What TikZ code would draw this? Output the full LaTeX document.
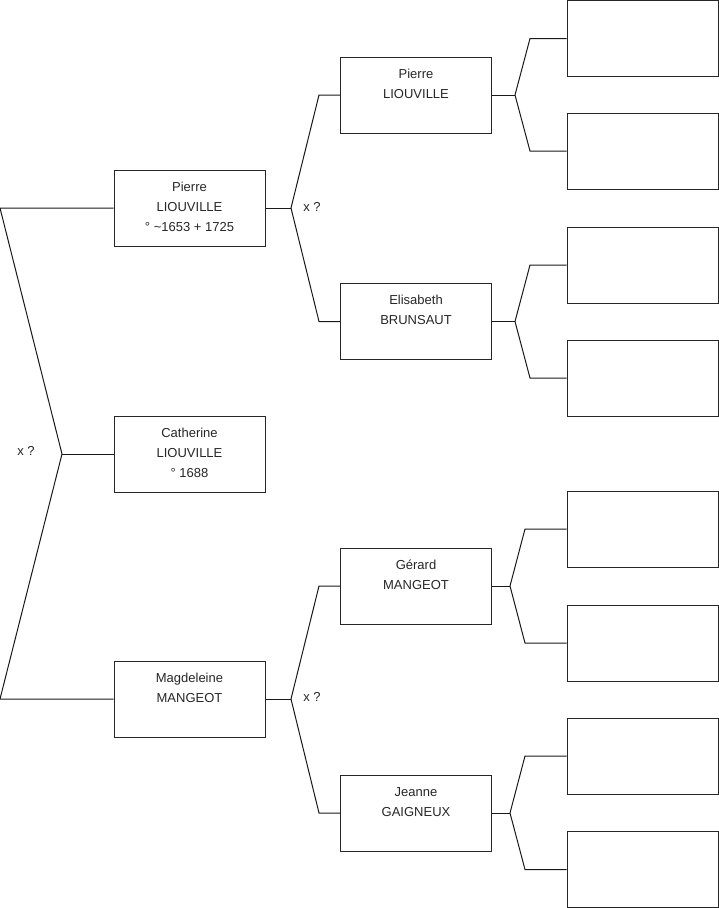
\documentclass[tikz,border=0pt]{standalone}
\usepackage{fontspec}
\setmainfont{Liberation Sans}

\newcommand\who[1]{\begin{tabular}[t]{@{}c@{}}#1\end{tabular}}

\tikzset{
  box/.style={draw=black!85, line width=1pt, inner sep=0pt, minimum width=151pt,
    text height=21pt, text depth=55pt, text=black!85},
  link/.style={draw=black!90, line width=1pt},
  union/.style={inner sep=0pt, text=black!85}
}

\begin{document}
\begin{tikzpicture}[x=1pt, y=-1pt, font=\fontsize{13}{20}\selectfont]
    \useasboundingbox (0,0) rectangle (719,908);

    % child
    \node[box] (cath) at (189.5,454) {\who{Catherine\\LIOUVILLE\\° 1688}};

    % parents
    \node[box] (pier) at (189.5,208) {\who{Pierre\\LIOUVILLE\\° \textasciitilde1653 + 1725}};
    \node[box] (magd) at (189.5,699) {\who{Magdeleine\\MANGEOT}};

    % grand-parents
    \node[box] (pier2) at (416,95)  {\who{Pierre\\LIOUVILLE}};
    \node[box] (elis)  at (416,321.5) {\who{Elisabeth\\BRUNSAUT}};
    \node[box] (gera)  at (416,586) {\who{Gérard\\MANGEOT}};
    \node[box] (jean)  at (416,813) {\who{Jeanne\\GAIGNEUX}};

    % great-grand-parents (unknown)
    \node[box] (u1) at (642.5,38.5)  {};
    \node[box] (u2) at (642.5,151) {};
    \node[box] (u3) at (642.5,265) {};
    \node[box] (u4) at (642.5,378) {};
    \node[box] (u5) at (642.5,529) {};
    \node[box] (u6) at (642.5,643) {};
    \node[box] (u7) at (642.5,756) {};
    \node[box] (u8) at (642.5,869.5) {};

    % forks
    \coordinate (f0) at (62,454);
    \coordinate (f0a) at (0,208);
    \coordinate (f0b) at (0,699);
    \coordinate (f1) at (291,208);
    \coordinate (f2) at (291,699);
    \coordinate (f1a) at (319,95);
    \coordinate (f1b) at (319,321.5);
    \coordinate (f2a) at (319,586);
    \coordinate (f2b) at (319,813);
    \coordinate (g1) at (515,95);
    \coordinate (g2) at (515,321.5);
    \coordinate (g3) at (510,586);
    \coordinate (g4) at (510,813);

    \draw[link] (cath.west) -- (f0);
    \draw[link] (f0) -- (f0a) -- (pier.west);
    \draw[link] (f0) -- (f0b) -- (magd.west);

    \draw[link] (pier.east) -- (f1);
    \draw[link] (f1) -- (f1a) -- (pier2.west);
    \draw[link] (f1) -- (f1b) -- (elis.west);
    \draw[link] (magd.east) -- (f2);
    \draw[link] (f2) -- (f2a) -- (gera.west);
    \draw[link] (f2) -- (f2b) -- (jean.west);

    \draw[link] (pier2.east) -- (g1);
    \draw[link] (g1) -- (530,38.5) -- (u1.west);
    \draw[link] (g1) -- (530,151) -- (u2.west);
    \draw[link] (elis.east) -- (g2);
    \draw[link] (g2) -- (530,265) -- (u3.west);
    \draw[link] (g2) -- (530,378) -- (u4.west);
    \draw[link] (gera.east) -- (g3);
    \draw[link] (g3) -- (525,529) -- (u5.west);
    \draw[link] (g3) -- (525,643) -- (u6.west);
    \draw[link] (jean.east) -- (g4);
    \draw[link] (g4) -- (525,756) -- (u7.west);
    \draw[link] (g4) -- (525,869.5) -- (u8.west);

    % marriages
    \node[union] (m0) at (26,451) {x ?};
    \node[union] (m1) at (312,207) {x ?};
    \node[union] (m2) at (312,697) {x ?};
\end{tikzpicture}
\end{document}
